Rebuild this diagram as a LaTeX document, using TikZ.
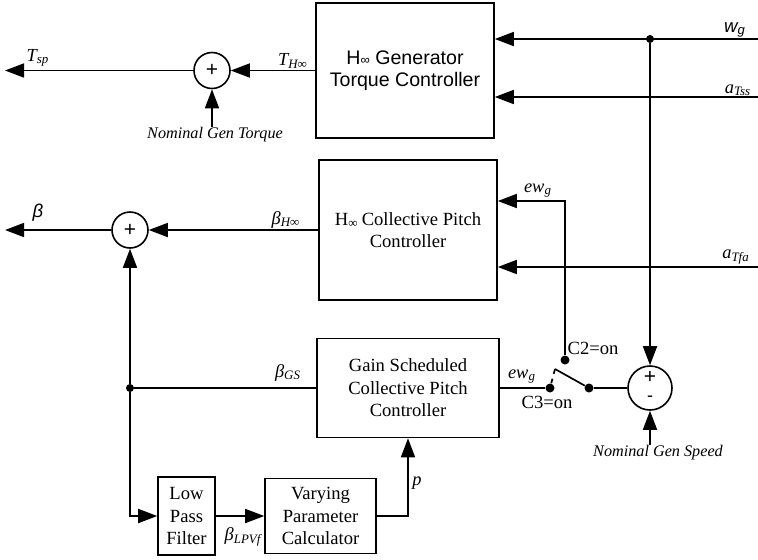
\documentclass[tikz,border=0pt]{standalone}
\usepackage{fontspec}
\setmainfont{Liberation Serif}
\setsansfont{Liberation Sans}
\usetikzlibrary{arrows.meta, positioning}

\tikzset{
  blk/.style={draw, line width=0.8pt, align=center, inner sep=0pt},
  sumnode/.style={draw, circle, line width=0.8pt, minimum size=18pt, inner sep=0pt,
    font=\fontsize{10.5}{11}\selectfont\sffamily},
  wire/.style={line width=0.85pt},
  sig/.style={wire, -{Triangle[length=9.5pt, width=7pt]}},
  dotnode/.style={circle, fill, inner sep=0pt, minimum size=4pt},
  lbl/.style={inner sep=0pt, font=\fontsize{9.2}{10}\selectfont\itshape},
  notelbl/.style={inner sep=0pt, font=\fontsize{8.1}{10}\selectfont\itshape},
  sanslbl/.style={inner sep=0pt, font=\fontsize{9.3}{11}\selectfont\sffamily\itshape},
}

\begin{document}
\begin{tikzpicture}[x=0.5pt, y=-0.5pt,
  every node/.style={font=\fontsize{9.3}{11.2}\selectfont}]
  \useasboundingbox (0,0) rectangle (758,559);

  % Blocks
  \node[blk, minimum width=89pt, minimum height=67.5pt,
        font=\fontsize{9.8}{11.2}\selectfont\sffamily] (hgen) at (405,70.5)
    {H{\fontsize{6.5}{7}\selectfont∞} Generator\\Torque Controller};
  \node[blk, minimum width=89pt, minimum height=70pt] (hcp) at (408,230)
    {H\textsubscript{∞}\,Collective Pitch\\Controller};
  \node[blk, minimum width=91pt, minimum height=49.5pt] (gs) at (408,388)
    {Gain Scheduled\\Collective Pitch\\Controller};
  \node[blk, minimum width=28.5pt, minimum height=39pt] (lpf) at (186.5,516)
    {Low\\Pass\\Filter};
  \node[blk, minimum width=55.5pt, minimum height=37.5pt] (vpc) at (320.5,516)
    {Varying\\Parameter\\Calculator};

  % Summing junctions
  \node[sumnode] (tsum) at (212,70.5) {+};
  \node[sumnode] (bsum) at (130,230) {+};
  \node[sumnode, minimum size=22pt] (esum) at (650,388) {};
  \node[inner sep=0pt, font=\fontsize{10.5}{11}\selectfont\sffamily] (eplus) at (650,377) {+};
  \node[inner sep=0pt, font=\fontsize{9}{11}\selectfont\sffamily] (eminus) at (650,399) {-};

  % Branch points and switch contacts
  \node[dotnode] (wgdot) at (650,39) {};
  \node[dotnode] (bjoin) at (130,388) {};
  \node[dotnode, minimum size=4.5pt] (c2) at (565,360) {};
  \node[dotnode, minimum size=4.5pt] (c3) at (550,388) {};
  \node[dotnode, minimum size=4.5pt] (pivot) at (589,388) {};
  \coordinate (blade) at (555,369);

  % Free ends
  \coordinate (wgin) at (758,39);
  \coordinate (atssin) at (758,97);
  \coordinate (atfain) at (758,267);
  \coordinate (tspout) at (5,70.5);
  \coordinate (betaout) at (5,230);
  \coordinate (ewgturn) at (565,201);

  % Labels
  \node[lbl] (ltsp) at (38,58) {T\textsubscript{sp}};
  \node[lbl] (lthinf) at (293,61) {T\textsubscript{H∞}};
  \node[notelbl] (lngt) at (215,135) {Nominal Gen Torque};
  \node[sanslbl] (lwg) at (735,30) {w\textsubscript{g}};
  \node[lbl] (latss) at (738,90) {a\textsubscript{Tss}};
  \node[sanslbl] (lbeta) at (38,213) {β};
  \node[lbl] (lbhinf) at (286,220) {β\textsubscript{H∞}};
  \node[lbl] (lewg) at (538,191) {ew\textsubscript{g}};
  \node[lbl] (latfa) at (736,257) {a\textsubscript{Tfa}};
  \node[lbl] (lbgs) at (288,373) {β\textsubscript{GS}};
  \node[lbl] (lblpv) at (243,537) {β\textsubscript{LPVf}};
  \node[lbl] (lewgr) at (522,377) {ew\textsubscript{g}};
  \node[inner sep=0pt] (lc2) at (593,348) {C2=on};
  \node[inner sep=0pt] (lc3) at (547,402) {C3=on};
  \node[notelbl] (lngs) at (658,453) {Nominal Gen Speed};
  \node[lbl] (lp) at (417,483) {p};

  % Torque loop
  \draw[sig] (wgin) -- (wgin -| hgen.east);
  \draw[sig] (atssin) -- (atssin -| hgen.east);
  \draw[sig] (hgen) -- (tsum);
  \draw[sig] (tsum) -- (tspout);
  \draw[sig] (lngt.north -| tsum) -- (tsum);

  % Pitch loop
  \draw[sig] (hcp) -- (bsum);
  \draw[sig] (bsum) -- (betaout);
  \draw[sig] (atfain) -- (atfain -| hcp.east);
  \draw[sig] (c2) -- (ewgturn) -- (ewgturn -| hcp.east);
  \draw[wire] (gs) -- (bjoin);
  \draw[sig] (bjoin) -- (bsum);
  \draw[sig] (bjoin) |- (lpf);
  \draw[sig] (lpf) -- (vpc);
  \draw[sig] (vpc) -| (gs);

  % Speed error and switch
  \draw[sig] (wgdot) -- (esum);
  \draw[sig] (lngs.north -| esum) -- (esum);
  \draw[wire] (gs) -- (c3);
  \draw[wire] (pivot) -- (blade);
  \draw[wire, dash pattern=on 2.5pt off 2.5pt] (blade) -- (c3);
  \draw[wire] (pivot) -- (esum);
\end{tikzpicture}
\end{document}
